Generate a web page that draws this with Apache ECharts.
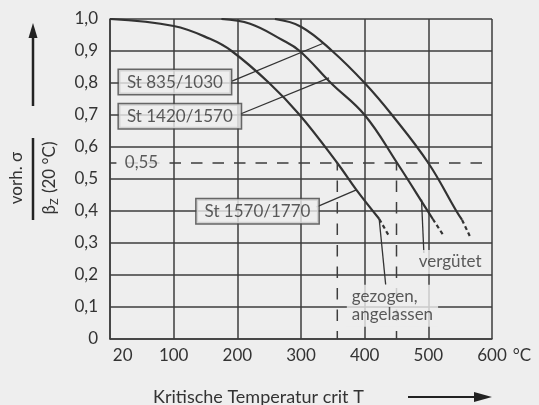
<!DOCTYPE html>
<html>
<head>
<meta charset="utf-8">
<script src="https://cdn.jsdelivr.net/npm/echarts@6/dist/echarts.min.js"></script>
<style>
  html, body { margin: 0; padding: 0; background: #eeeeee; }
  #chart { width: 539px; height: 405px; }
</style>
</head>
<body>
<div id="chart"></div>
<script>
// Tick labels
const tempTicks = [20, 100, 200, 300, 400, 500, 600];

// St 1570/1770 (gezogen, angelassen): temperature in °C, stress ratio
const tempA  = [0, 100, 157, 191, 250, 298, 357, 387, 423];
const ratioA = [1.0, 0.978, 0.938, 0.9, 0.8, 0.7, 0.55, 0.466, 0.375];
const tailTempA  = [423, 437];
const tailRatioA = [0.375, 0.326];

// St 1420/1570 (vergütet)
const tempB  = [175, 220, 270, 298, 347, 400, 451, 499, 507];
const ratioB = [1.0, 0.985, 0.935, 0.9, 0.8, 0.7, 0.55, 0.4, 0.375];
const tailTempB  = [507, 523];
const tailRatioB = [0.375, 0.326];

// St 835/1030
const tempC  = [259, 300, 349, 400, 443, 500, 544, 553];
const ratioC = [1.0, 0.976, 0.9, 0.8, 0.7, 0.55, 0.4, 0.372];
const tailTempC  = [553, 565];
const tailRatioC = [0.372, 0.322];

// Reference stress ratio and the critical temperatures read at it
const refRatio = 0.55;
const refTemps = [357, 450];

const FONT = 'Lato, "Noto Sans", sans-serif';
const INK = '#333333';
const GRID_INK = '#3d3d3d';
const BG = '#eeeeee';

const pairs = (xs, ys) => xs.map((x, i) => [x, ys[i]]);

// Boxed steel-grade labels: anchor (left edge, middle) and leader line
const gradeLabels = [
  { text: 'St 835/1030',  at: [14, 0.803],  leader: [[191.5, 0.806], [336, 0.925]] },
  { text: 'St 1420/1570', at: [14, 0.696],  leader: [[201, 0.700], [344, 0.816]] },
  { text: 'St 1570/1770', at: [136, 0.399], leader: [[324.6, 0.413], [387, 0.466]] }
];
// Condition notes below the curves
const noteLabels = [
  { text: 'gezogen,\nangelassen', at: [372, 0.104], leader: [[422.8, 0.375], [433, 0.170]] },
  { text: 'vergütet',             at: [477, 0.241], leader: [[489.3, 0.435], [493, 0.269]] }
];

const curveLine = { color: INK, width: 2.2 };
const thinLine  = { color: INK, width: 1.3 };

function curve(name, xs, ys) {
  return {
    name, type: 'line', data: pairs(xs, ys), smooth: 0.4,
    showSymbol: false, silent: true, lineStyle: curveLine, z: 3
  };
}
function tail(name, xs, ys) {
  return {
    name, type: 'line', data: pairs(xs, ys), showSymbol: false, silent: true,
    lineStyle: { color: INK, width: 2.2, type: [4, 3] }, z: 3
  };
}
function segment(name, pts, style) {
  return { name, type: 'line', data: pts, showSymbol: false, silent: true, lineStyle: style, z: 4 };
}

const series = [
  curve('St 1570/1770', tempA, ratioA),
  curve('St 1420/1570', tempB, ratioB),
  curve('St 835/1030', tempC, ratioC),
  tail('St 1570/1770 Ende', tailTempA, tailRatioA),
  tail('St 1420/1570 Ende', tailTempB, tailRatioB),
  tail('St 835/1030 Ende', tailTempC, tailRatioC),
  segment('0,55', [[0, refRatio], [600, refRatio]],
          { color: GRID_INK, width: 1.5, type: [11.5, 10], dashOffset: 5 })
];
refTemps.forEach((t, i) => {
  series.push(segment('crit T ' + (i + 1), [[t, refRatio], [t, 0]],
                      { color: GRID_INK, width: 1.5, type: [11.5, 10], dashOffset: 4 }));
});
gradeLabels.concat(noteLabels).forEach(l => {
  series.push(segment(l.text + ' Linie', l.leader, thinLine));
});

// Text boxes drawn above the lines
series.push({
  name: 'Werkstoffe', type: 'scatter', symbolSize: 0, silent: true, z: 10,
  data: gradeLabels.map(l => ({ value: l.at, name: l.text })),
  label: {
    show: true, position: 'right', distance: 0, formatter: p => p.name,
    fontFamily: FONT, fontSize: 17, color: INK,
    backgroundColor: BG, borderColor: '#444444', borderWidth: 1.5,
    padding: [4, 8, 3, 8]
  }
});
series.push({
  name: 'Zustand', type: 'scatter', symbolSize: 0, silent: true, z: 10,
  data: noteLabels.map(l => ({ value: l.at, name: l.text })),
  label: {
    show: true, position: 'right', distance: 0, formatter: p => p.name,
    fontFamily: FONT, fontSize: 17, color: INK, lineHeight: 18,
    backgroundColor: BG, padding: [3, 5, 3, 5]
  }
});
series.push({
  name: 'Bezugswert', type: 'scatter', symbolSize: 0, silent: true, z: 10,
  data: [[49.5, refRatio]],
  label: {
    show: true, position: 'inside', formatter: () => String(refRatio).replace('.', ','),
    fontFamily: FONT, fontSize: 17, color: INK,
    backgroundColor: BG, padding: [0, 8]
  }
});

const option = {
  backgroundColor: BG,
  animation: false,
  grid: { left: 110, top: 19, width: 382, height: 320, containLabel: false },
  xAxis: {
    type: 'value', min: 0, max: 600, interval: 100,
    name: '°C', nameLocation: 'end', nameGap: 18,
    nameTextStyle: { fontFamily: FONT, fontSize: 17, color: INK, verticalAlign: 'top', padding: [8, 0, 0, 0] },
    axisLine: { show: true, lineStyle: { color: GRID_INK, width: 1.5 } },
    axisTick: { show: false },
    axisLabel: {
      customValues: tempTicks, margin: 8,
      fontFamily: FONT, fontSize: 17, color: INK
    },
    splitLine: { show: true, lineStyle: { color: GRID_INK, width: 1.5 } }
  },
  yAxis: {
    type: 'value', min: 0, max: 1, interval: 0.1,
    axisLine: { show: true, lineStyle: { color: GRID_INK, width: 1.5 } },
    axisTick: { show: false },
    axisLabel: {
      margin: 12, fontFamily: FONT, fontSize: 17, color: INK,
      formatter: v => (Math.abs(v) < 1e-9 ? '0' : v.toFixed(1).replace('.', ','))
    },
    splitLine: { show: true, lineStyle: { color: GRID_INK, width: 1.5 } }
  },
  series,
  graphic: [
    // upward arrow beside the ratio axis
    { type: 'line', shape: { x1: 33, y1: 106, x2: 33, y2: 36 }, style: { stroke: '#222', lineWidth: 2.5 } },
    { type: 'polygon', shape: { points: [[28.5, 38], [33, 23], [37.5, 38]] }, style: { fill: '#222' } },
    // ratio axis title as a fraction
    { type: 'text', x: 17, y: 178, rotation: Math.PI / 2,
      style: { text: 'vorh. σ', font: '17px ' + FONT, fill: INK, align: 'center', verticalAlign: 'middle' } },
    { type: 'line', shape: { x1: 33, y1: 138, x2: 33, y2: 220 }, style: { stroke: '#222', lineWidth: 2.5 } },
    { type: 'text', x: 50, y: 178, rotation: Math.PI / 2,
      style: {
        text: '{b|β}{s|Z}{b| (20 °C)}', align: 'center', verticalAlign: 'middle', fill: INK,
        rich: {
          b: { fontFamily: FONT, fontSize: 17, lineHeight: 20, color: INK },
          s: { fontFamily: FONT, fontSize: 11, lineHeight: 12, color: INK, verticalAlign: 'bottom', padding: [0, 1, 0, 0] }
        }
      } },
    // temperature axis title and arrow
    { type: 'text', x: 153, y: 397,
      style: { text: 'Kritische Temperatur crit T', font: '18px ' + FONT, fill: INK, align: 'left', verticalAlign: 'middle' } },
    { type: 'line', shape: { x1: 408, y1: 397, x2: 478, y2: 397 }, style: { stroke: '#222', lineWidth: 2 } },
    { type: 'polygon', shape: { points: [[474, 392], [492, 397], [474, 402]] }, style: { fill: '#222' } }
  ]
};

const chart = echarts.init(document.getElementById('chart'));
chart.setOption(option);
</script>
</body>
</html>
